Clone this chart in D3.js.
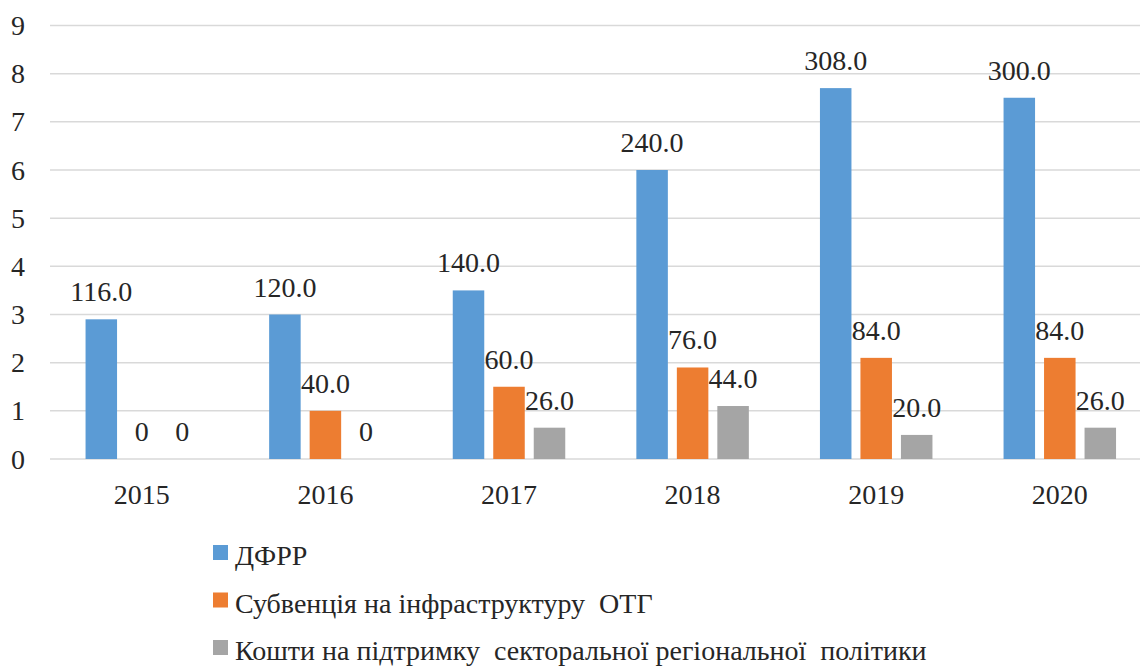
<!DOCTYPE html>
<html>
<head>
<meta charset="utf-8">
<script src="https://cdn.jsdelivr.net/npm/d3@7"></script>
<style>
  body { margin: 0; background: #fff; }
  #chart svg text { font-family: 'Liberation Serif', 'Times New Roman', serif !important; }
</style>
</head>
<body>
<div id="chart"></div>
<script>
var years = ["2015", "2016", "2017", "2018", "2019", "2020"];
var series = ["ДФРР", "Субвенція на інфраструктуру  ОТГ", "Кошти на підтримку  секторальної регіональної  політики"];
var dfrr = [116, 120, 140, 240, 308, 300];
var subv = [0, 40, 60, 76, 84, 84];
var koshty = [0, 0, 26, 44, 20, 26];
var yTicks = [0, 1, 2, 3, 4, 5, 6, 7, 8, 9];
// bars are drawn on the 0-9 axis, one unit = 40
var unitsPerTick = 40;
var colors = ["#5b9bd5", "#ed7d31", "#a5a5a5"];

var w = 1140, h = 669;
var svg = d3.select("#chart").append("svg")
    .attr("width", w).attr("height", h);

var values = [dfrr, subv, koshty];

var x0 = d3.scaleBand()
    .domain(years)
    .range([50, 50 + 6 * 183.6]);
var x1 = d3.scaleBand()
    .domain([0, 1, 2])
    .range([-56.25, 56.25])
    .paddingInner(0.222);
var y = d3.scaleLinear()
    .domain([0, 9])
    .range([459, 25.5]);

function label(sel) {
    return sel.attr("fill", "#262626")
        .attr("font-family", "Liberation Serif")
        .attr("font-size", 28);
}

// gridlines
svg.append("g").selectAll("line")
    .data(yTicks)
    .enter().append("line")
    .attr("x1", 50).attr("x2", w)
    .attr("y1", function(d) { return y(d); })
    .attr("y2", function(d) { return y(d); })
    .attr("stroke", "#d9d9d9")
    .attr("stroke-width", 1.5);

// y labels
svg.append("g").selectAll("text")
    .data(yTicks)
    .enter().append("text")
    .attr("x", 25)
    .attr("y", function(d) { return y(d); })
    .attr("dy", "0.34em")
    .attr("text-anchor", "end")
    .call(label)
    .text(function(d) { return d; });

// x labels
svg.append("g").selectAll("text")
    .data(years)
    .enter().append("text")
    .attr("x", function(d) { return x0(d) + x0.bandwidth() / 2; })
    .attr("y", 504)
    .attr("text-anchor", "middle")
    .call(label)
    .text(function(d) { return d; });

var groups = svg.append("g").selectAll("g")
    .data(years)
    .enter().append("g")
    .attr("transform", function(d) { return "translate(" + (x0(d) + x0.bandwidth() / 2) + ",0)"; });

groups.each(function(yr, i) {
    var g = d3.select(this);
    values.forEach(function(arr, s) {
        var v = arr[i];
        if (v > 0) {
            g.append("rect")
                .attr("x", x1(s))
                .attr("width", x1.bandwidth())
                .attr("y", y(v / unitsPerTick))
                .attr("height", y(0) - y(v / unitsPerTick))
                .attr("fill", colors[s]);
        }
        g.append("text")
            .attr("x", x1(s) + x1.bandwidth() / 2)
            .attr("y", y(v / unitsPerTick) - 18)
            .attr("text-anchor", "middle")
            .call(label)
            .text(v === 0 ? "0" : v.toFixed(1));
    });
});

// legend
var legend = svg.append("g").selectAll("g")
    .data(series)
    .enter().append("g")
    .attr("transform", function(d, i) { return "translate(213," + (565 + i * 47.5) + ")"; });
legend.append("rect")
    .attr("y", -20).attr("width", 15).attr("height", 15)
    .attr("fill", function(d, i) { return colors[i]; });
legend.append("text")
    .attr("x", 22)
    .call(label)
    .style("white-space", "pre")
    .text(function(d) { return d; });
</script>
</body>
</html>
